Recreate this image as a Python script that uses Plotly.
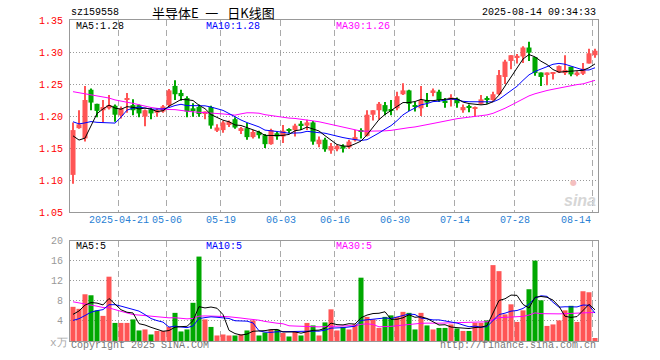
import plotly.graph_objects as go
import pandas as pd

# ---------------- data ----------------
open_ = [1.108,1.181,1.165,1.241,1.219,1.209,1.212,1.216,1.201,1.226,
         1.217,1.217,1.199,1.210,1.205,1.207,1.217,1.247,1.236,1.228,
         1.212,1.214,1.204,1.214,1.177,1.178,1.186,1.195,1.178,1.181,
         1.167,1.175,1.170,1.156,1.173,1.168,1.179,1.178,1.188,1.185,
         1.190,1.156,1.163,1.146,1.148,1.153,1.151,1.162,1.178,1.169,
         1.202,1.209,1.217,1.211,1.212,1.234,1.240,1.217,1.212,1.225,
         1.236,1.238,1.224,1.225,1.227,1.209,1.214,1.212,1.219,1.227,
         1.225,1.234,1.261,1.286,1.292,1.293,1.307,1.292,1.268,1.264,
         1.266,1.268,1.267,1.277,1.264,1.266,1.282,1.295]
high = [1.190,1.209,1.247,1.243,1.219,1.225,1.233,1.218,1.215,1.236,
        1.226,1.218,1.210,1.213,1.212,1.217,1.242,1.256,1.241,1.231,
        1.220,1.218,1.207,1.216,1.187,1.192,1.193,1.198,1.183,1.189,
        1.178,1.177,1.172,1.180,1.175,1.186,1.181,1.188,1.192,1.194,
        1.192,1.168,1.166,1.158,1.155,1.156,1.163,1.178,1.181,1.209,
        1.209,1.222,1.222,1.225,1.238,1.251,1.241,1.222,1.247,1.236,
        1.243,1.241,1.228,1.234,1.229,1.218,1.218,1.215,1.233,1.231,
        1.238,1.272,1.288,1.295,1.297,1.309,1.316,1.292,1.268,1.268,
        1.268,1.279,1.295,1.277,1.270,1.283,1.305,1.305]
low = [1.094,1.180,1.160,1.209,1.198,1.190,1.210,1.191,1.196,1.205,
       1.201,1.198,1.184,1.195,1.199,1.205,1.214,1.225,1.224,1.198,
       1.199,1.199,1.195,1.180,1.175,1.174,1.183,1.180,1.172,1.163,
       1.165,1.165,1.150,1.155,1.163,1.158,1.173,1.168,1.178,1.178,
       1.155,1.151,1.144,1.141,1.145,1.143,1.149,1.160,1.165,1.168,
       1.193,1.194,1.201,1.201,1.209,1.233,1.208,1.207,1.200,1.214,
       1.231,1.222,1.213,1.215,1.213,1.205,1.206,1.200,1.218,1.219,
       1.224,1.233,1.250,1.273,1.282,1.283,1.286,1.263,1.247,1.248,
       1.257,1.267,1.264,1.262,1.262,1.264,1.282,1.291]
close = [1.178,1.187,1.225,1.221,1.208,1.214,1.217,1.202,1.212,1.228,
         1.209,1.204,1.209,1.204,1.209,1.215,1.240,1.234,1.231,1.207,
         1.209,1.203,1.207,1.185,1.182,1.190,1.191,1.182,1.181,1.167,
         1.175,1.170,1.156,1.178,1.168,1.177,1.177,1.185,1.185,1.190,
         1.160,1.163,1.148,1.153,1.153,1.149,1.160,1.167,1.175,1.202,
         1.209,1.219,1.207,1.208,1.231,1.240,1.219,1.215,1.225,1.221,
         1.240,1.225,1.221,1.229,1.220,1.214,1.213,1.214,1.226,1.225,
         1.234,1.264,1.285,1.295,1.294,1.307,1.299,1.267,1.261,1.268,
         1.268,1.278,1.272,1.265,1.268,1.274,1.298,1.302]
volume = [6.8,6.4,9.3,9.1,6.1,5.0,12.8,3.6,3.6,3.6,
          4.3,2.1,2.3,1.3,2.0,2.0,2.8,5.6,1.9,2.3,
          7.6,16.8,4.3,2.8,1.1,1.3,1.1,1.1,1.3,2.1,
          4.1,1.1,1.7,2.3,2.3,1.6,0.9,1.9,1.1,3.6,
          3.1,1.1,3.7,6.3,2.1,2.8,2.3,3.3,12.6,4.8,
          4.3,2.6,4.8,5.1,4.8,5.8,5.6,2.3,5.6,3.1,
          2.3,2.6,2.6,3.3,2.5,2.0,2.0,3.6,3.6,4.1,
          15.1,13.9,5.3,7.3,3.8,6.1,10.3,16.0,8.1,3.0,
          3.3,4.1,6.1,7.0,3.8,9.9,9.7,0.6]
# sessions before the first visible candle (estimated, needed to seed the moving averages)
prior_close = [1.24,1.25,1.27,1.28,1.26,1.27,1.29,1.28,1.27,1.26,
               1.28,1.27,1.26,1.25,1.26,1.25,1.24,1.25,1.26,1.24,
               1.22,1.21,1.20,1.22,1.215,1.22,1.21,1.12,1.117]
prior_volume = [12,15,14,16,13,15,14,13,14,14,
                5,6,5,5,6,5,5,6,5,5,
                3,3,2.5,3,3,3,3.5,6.5,6.7]

tick_index = [8, 16, 25, 35, 44, 54, 64, 74, 87]
tick_labels = ["2025-04-21", "05-06", "05-19", "06-03", "06-16", "06-30", "07-14", "07-28", "08-14"]
price_ticks = [1.05, 1.10, 1.15, 1.20, 1.25, 1.30, 1.35]
volume_ticks = [4, 8, 12, 16, 20]
price_ma_text = ["MA5:1.28", "MA10:1.28", "MA30:1.26"]
volume_ma_text = ["MA5:5", "MA10:5", "MA30:5"]
code = "sz159558"
title = "半导体E\u2002一\u2002\u2009日K线图"
stamp = "2025-08-14 09:34:33"

# ---------------- derived ----------------
n = len(close)
x = list(range(n))
RED = "#ff5555"
GREEN = "#00a800"
cols = [RED if c >= o else GREEN for o, c in zip(open_, close)]
body_base = [min(o, c) for o, c in zip(open_, close)]
body_h = [max(abs(c - o), 0.0016) for o, c in zip(open_, close)]

cs = pd.Series(prior_close + close)
vs = pd.Series(prior_volume + volume)
k = len(prior_close)
ma = {w: cs.rolling(w).mean().tolist()[k:] for w in (5, 10, 30)}
vma = {w: vs.rolling(w).mean().tolist()[k:] for w in (5, 10, 30)}
ma_colors = {5: "#000000", 10: "#0000ff", 30: "#ff00ff"}

fig = go.Figure()
# wicks
fig.add_trace(go.Bar(x=x, y=[h - l for h, l in zip(high, low)], base=low, width=0.17,
                     marker=dict(color=cols, line=dict(width=0)), xaxis="x", yaxis="y",
                     hoverinfo="skip"))
# bodies
fig.add_trace(go.Bar(x=x, y=body_h, base=body_base, width=0.84,
                     marker=dict(color=cols, line=dict(width=0)), xaxis="x", yaxis="y"))
for w in (30, 10, 5):
    fig.add_trace(go.Scatter(x=x, y=ma[w], mode="lines", line=dict(color=ma_colors[w], width=1),
                             xaxis="x", yaxis="y"))
# volume
fig.add_trace(go.Bar(x=x, y=volume, width=0.84, marker=dict(color=cols, line=dict(width=0)),
                     xaxis="x2", yaxis="y2"))
for w in (30, 10, 5):
    fig.add_trace(go.Scatter(x=x, y=vma[w], mode="lines", line=dict(color=ma_colors[w], width=1),
                             xaxis="x2", yaxis="y2"))

L, R, T, B = 70, 62, 20, 19
W, H = 660, 360
pw, ph = W - L - R, H - T - B


def px(xp):
    return (xp - L) / pw


def py(yp):
    return (H - B - yp) / ph


grid_x = [i - 0.35 for i in tick_index]
mono = "Liberation Mono, DejaVu Sans Mono, monospace"
axcommon = dict(range=[-0.5, n - 0.5], tickvals=grid_x, showticklabels=False, showgrid=True,
                gridcolor="#aaaaaa", griddash="6px,4px", gridwidth=1, showline=True, mirror=True,
                linecolor="#999999", linewidth=1, zeroline=False, ticks="", fixedrange=True)

fig.update_layout(
    width=W, height=H, margin=dict(l=L, r=R, t=T, b=B),
    paper_bgcolor="white", plot_bgcolor="white", showlegend=False, barmode="overlay",
    font=dict(family=mono, size=10, color="#000"),
    xaxis=dict(domain=[0, 1], anchor="y", **axcommon),
    xaxis2=dict(domain=[0, 1], anchor="y2", matches="x", **axcommon),
    yaxis=dict(domain=[py(212), 1], range=[1.05, 1.35], tickvals=price_ticks,
               ticktext=["%.2f" % v for v in price_ticks], tickfont=dict(color="#ff0000", size=10, family=mono),
               showgrid=True, gridcolor="#999999", griddash="1px,2px", showline=True, mirror=True,
               linecolor="#999999", linewidth=1, zeroline=False, ticks="", ticklabelstandoff=4, fixedrange=True),
    yaxis2=dict(domain=[0, py(240.5)], range=[0, 20], tickvals=volume_ticks,
                ticktext=[str(v) for v in volume_ticks], tickfont=dict(color="#999999", size=10, family=mono),
                showgrid=True, gridcolor="#999999", griddash="1px,2px", showline=True, mirror=True,
                linecolor="#999999", linewidth=1, zeroline=False, ticks="", ticklabelstandoff=4, fixedrange=True),
)

ann = []


def add(text, xp, yp, color="#000", size=10, xanchor="left", family=mono):
    ann.append(dict(text=text, x=px(xp), y=py(yp), xref="paper", yref="paper", showarrow=False,
                    xanchor=xanchor, yanchor="middle", font=dict(color=color, size=size, family=family)))


add(code, 69, 12)
add(title, 150, 12, size=13, family="Noto Sans CJK SC")
add(stamp, 598, 12, xanchor="right")
for t, xp, w in zip(price_ma_text, (74, 204, 334), (5, 10, 30)):
    add(t, xp, 26, color=ma_colors[w])
for t, xp, w in zip(volume_ma_text, (74, 204, 334), (5, 10, 30)):
    add(t, xp, 246.5, color=ma_colors[w])
for i, lab in zip(tick_index, tick_labels):
    xc = L + (i - 0.35 + 0.5) * pw / n
    if i == n - 1:
        add(lab, xc, 220.5, color="#2a7fd4", xanchor="right")
    else:
        add(lab, xc, 220.5, color="#2a7fd4", xanchor="center")
add("x万", 48, 343, color="#aaaaaa", size=11)
add("Copyright 2025 SINA.COM", 69, 346, color="#777777")
add("http://finance.sina.com.cn", 598, 346, color="#777777", xanchor="right")
add("<b><i>sina</i></b>", 580, 200, color="#d6d6d6", size=16, xanchor="center", family="Liberation Sans")
add("●", 573, 182, color="#f4c0c0", size=8, xanchor="center", family="DejaVu Sans")
fig.update_layout(annotations=ann)

fig.write_html("out.html")
